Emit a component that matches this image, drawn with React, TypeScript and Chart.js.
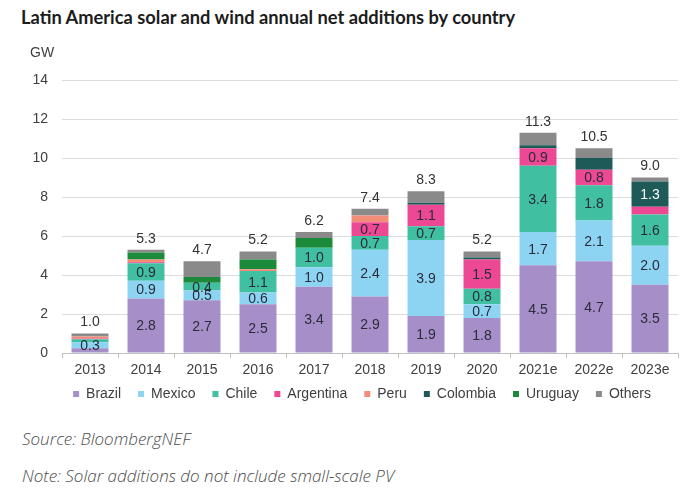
import React, { useEffect, useRef } from "react";
import { Chart, registerables } from "chart.js";

Chart.register(...registerables);

const categories = ["2013", "2014", "2015", "2016", "2017", "2018", "2019", "2020", "2021e", "2022e", "2023e"];

const brazil = [0.25, 2.8, 2.7, 2.5, 3.4, 2.9, 1.9, 1.8, 4.5, 4.7, 3.5];
const mexico = [0.3, 0.9, 0.5, 0.6, 1.0, 2.4, 3.9, 0.7, 1.7, 2.1, 2.0];
const chile = [0.15, 0.9, 0.4, 1.1, 1.0, 0.7, 0.7, 0.8, 3.4, 1.8, 1.6];
const argentina = [0.05, 0.05, 0, 0, 0, 0.7, 1.1, 1.5, 0.9, 0.8, 0.4];
const peru = [0.1, 0.15, 0, 0.1, 0, 0.35, 0, 0, 0, 0, 0];
const colombia = [0, 0, 0, 0, 0, 0, 0.1, 0.1, 0.15, 0.6, 1.3];
const uruguay = [0, 0.35, 0.3, 0.5, 0.5, 0, 0, 0, 0, 0, 0];
const others = [0.15, 0.15, 0.8, 0.4, 0.3, 0.35, 0.6, 0.3, 0.65, 0.5, 0.2];

const seriesNames = ["Brazil", "Mexico", "Chile", "Argentina", "Peru", "Colombia", "Uruguay", "Others"];
const seriesValues = [brazil, mexico, chile, argentina, peru, colombia, uruguay, others];
const seriesColors = ["#a68fc9", "#8dd4f3", "#40bfa1", "#ec4894", "#f28d7a", "#1d5a58", "#1b8a3a", "#8a8a8a"];

// which segments carry a value label, per category
const labelledSeries = [
  ["Mexico"],
  ["Brazil", "Mexico", "Chile"],
  ["Brazil", "Mexico", "Chile"],
  ["Brazil", "Mexico", "Chile"],
  ["Brazil", "Mexico", "Chile"],
  ["Brazil", "Mexico", "Chile", "Argentina"],
  ["Brazil", "Mexico", "Chile", "Argentina"],
  ["Brazil", "Mexico", "Chile", "Argentina"],
  ["Brazil", "Mexico", "Chile", "Argentina"],
  ["Brazil", "Mexico", "Chile", "Argentina"],
  ["Brazil", "Mexico", "Chile", "Colombia"],
];

const yTicks = [0, 2, 4, 6, 8, 10, 12, 14];

const FONT = "'Liberation Sans', Arial, sans-serif";

const labelPlugin = {
  id: "segmentLabels",
  afterLayout(chart: any) {
    // place the legend under the same span as the original figure
    if (chart.legend) {
      chart.legend.left += 8;
      chart.legend.right += 8;
      chart.legend.top -= 7;
      chart.legend.bottom -= 7;
    }
  },
  afterDatasetsDraw(chart: any) {
    const ctx = chart.ctx;
    ctx.save();
    ctx.font = `14px ${FONT}`;
    ctx.textAlign = "center";
    ctx.textBaseline = "middle";
    const tops: number[] = [];
    chart.data.datasets.forEach((ds: any, di: number) => {
      const meta = chart.getDatasetMeta(di);
      meta.data.forEach((el: any, i: number) => {
        const v = ds.data[i];
        if (v > 0) {
          const top = Math.min(el.y, el.base);
          tops[i] = tops[i] === undefined ? top : Math.min(tops[i], top);
        }
        if (labelledSeries[i].includes(ds.label)) {
          ctx.fillStyle = ds.label === "Colombia" ? "#ffffff" : "#2b2b3a";
          ctx.fillText(Number(v).toFixed(1), el.x, (el.y + el.base) / 2 + 1);
        }
      });
    });
    const meta0 = chart.getDatasetMeta(0);
    ctx.fillStyle = "#333333";
    categories.forEach((_, i) => {
      const total = seriesValues.reduce((s, arr) => s + arr[i], 0);
      ctx.fillText(total.toFixed(1), meta0.data[i].x, tops[i] - 11);
    });
    // unit label
    ctx.textAlign = "left";
    ctx.fillStyle = "#404040";
    ctx.fillText("GW", 30, 13);
    ctx.restore();
  },
};

export default function App() {
  const canvasRef = useRef<HTMLCanvasElement | null>(null);

  useEffect(() => {
    document.body.style.margin = "0";
    const canvas = canvasRef.current;
    if (!canvas) return;
    const chart = new Chart(canvas, {
      type: "bar",
      data: {
        labels: categories,
        datasets: seriesNames.map((name, i) => ({
          label: name,
          data: seriesValues[i],
          backgroundColor: seriesColors[i],
          borderWidth: 0,
          categoryPercentage: 1,
          barPercentage: 0.66,
        })),
      },
      options: {
        animation: false,
        responsive: false,
        maintainAspectRatio: false,
        layout: { padding: { left: 30, right: 14, top: 40, bottom: 0 } },
        plugins: {
          legend: {
            position: "bottom",
            labels: {
              boxWidth: 6,
              boxHeight: 6,
              padding: 17,
              color: "#404040",
              font: { family: FONT, size: 14 },
            },
          },
          tooltip: { enabled: false },
          title: { display: false },
        },
        scales: {
          x: {
            stacked: true,
            grid: { display: true, drawOnChartArea: false, drawTicks: true, tickLength: 5, color: "#bfbfbf", offset: true },
            border: { display: true, color: "#bfbfbf" },
            ticks: { color: "#404040", font: { family: FONT, size: 14 }, padding: 4, maxRotation: 0 },
            afterFit: (scale: any) => {
              scale.height = 24;
            },
          },
          y: {
            stacked: true,
            min: 0,
            max: 14,
            afterBuildTicks: (scale: any) => {
              scale.ticks = yTicks.map((v) => ({ value: v }));
            },
            grid: { color: "#dcdcdc", drawTicks: false },
            border: { display: false },
            ticks: { color: "#404040", font: { family: FONT, size: 14 }, padding: 14 },
            afterFit: (scale: any) => {
              scale.width = 32;
            },
          },
        },
      },
      plugins: [labelPlugin],
    });
    return () => chart.destroy();
  }, []);

  const noteStyle: React.CSSProperties = {
    position: "absolute",
    left: 22,
    fontFamily: "'Open Sans', sans-serif",
    fontStyle: "italic",
    fontWeight: 300,
    fontSize: 17,
    color: "#4d4d4d",
    whiteSpace: "nowrap",
    lineHeight: "22px",
  };

  return (
    <div style={{ position: "relative", width: 692, height: 488, background: "#fff", overflow: "hidden" }}>
      <div
        style={{
          position: "absolute",
          left: 21,
          top: 6,
          fontFamily: "Lato, 'Open Sans', sans-serif",
          fontWeight: 700,
          fontSize: 18.3,
          lineHeight: "22px",
          color: "#1c1c1c",
          whiteSpace: "nowrap",
        }}
      >
        Latin America solar and wind annual net additions by country
      </div>
      <div style={{ position: "absolute", left: 0, top: 40, width: 692, height: 378 }}>
        <canvas ref={canvasRef} width={692} height={378} style={{ width: 692, height: 378 }} />
      </div>
      <div style={{ ...noteStyle, top: 428 }}>Source: BloombergNEF</div>
      <div style={{ ...noteStyle, top: 465 }}>Note: Solar additions do not include small-scale PV</div>
    </div>
  );
}
